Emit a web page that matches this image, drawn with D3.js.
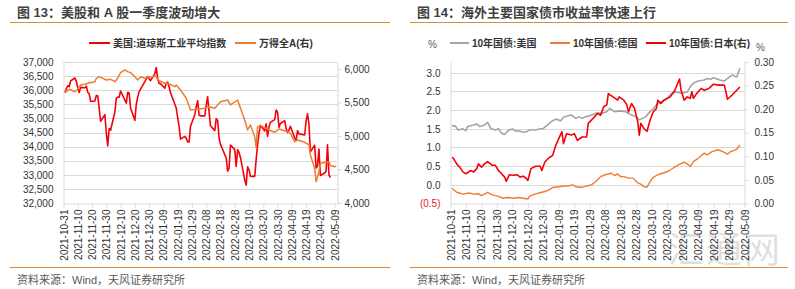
<!DOCTYPE html>
<html>
<head>
<meta charset="utf-8">
<script src="https://cdn.jsdelivr.net/npm/d3@7"></script>
<style>
  body { margin: 0; background: #fff; }
  svg { display: block; font-family: "Liberation Sans", Arial, "Noto Sans CJK SC", sans-serif; }
</style>
</head>
<body>
<svg id="chart" width="795" height="289"></svg>
<script>
// ---- data ----
const X_TICKS = ["2021-10-31","2021-11-10","2021-11-20","2021-11-30","2021-12-10","2021-12-20","2021-12-30",
  "2022-01-09","2022-01-19","2022-01-29","2022-02-08","2022-02-18","2022-02-28","2022-03-10","2022-03-20",
  "2022-03-30","2022-04-09","2022-04-19","2022-04-29","2022-05-09"];

// fig 13
const DOW_TICKS = [32000, 32500, 33000, 33500, 34000, 34500, 35000, 35500, 36000, 36500, 37000];
const WINDA_TICKS = [4000, 4500, 5000, 5500, 6000];

const DOW = [
["2021-11-01",35914],["2021-11-02",36053],["2021-11-03",36158],["2021-11-04",36124],["2021-11-05",36328],
["2021-11-08",36432],["2021-11-09",36320],["2021-11-10",36080],["2021-11-11",35921],["2021-11-12",36100],
["2021-11-15",36087],["2021-11-16",36142],["2021-11-17",35931],["2021-11-18",35871],["2021-11-19",35602],
["2021-11-22",35619],["2021-11-23",35814],["2021-11-24",35804],["2021-11-26",34899],["2021-11-29",35136],["2021-11-30",34484],
["2021-12-01",34022],["2021-12-02",34640],["2021-12-03",34580],["2021-12-06",35227],["2021-12-07",35719],["2021-12-08",35754],["2021-12-09",35755],["2021-12-10",35971],
["2021-12-13",35651],["2021-12-14",35544],["2021-12-15",35927],["2021-12-16",35898],["2021-12-17",35365],
["2021-12-20",34932],["2021-12-21",35493],["2021-12-22",35754],["2021-12-23",35951],["2021-12-27",36302],["2021-12-28",36398],["2021-12-29",36489],["2021-12-30",36398],["2021-12-31",36338],
["2022-01-03",36585],["2022-01-04",36800],["2022-01-05",36407],["2022-01-06",36236],["2022-01-07",36232],
["2022-01-10",36069],["2022-01-11",36252],["2022-01-12",36290],["2022-01-13",36114],["2022-01-14",35912],
["2022-01-18",35368],["2022-01-19",35029],["2022-01-20",34715],["2022-01-21",34265],
["2022-01-24",34365],["2022-01-25",34298],["2022-01-26",34168],["2022-01-27",34161],["2022-01-28",34725],["2022-01-31",35132],
["2022-02-01",35405],["2022-02-02",35629],["2022-02-03",35111],["2022-02-04",35090],
["2022-02-07",35091],["2022-02-08",35463],["2022-02-09",35768],["2022-02-10",35242],["2022-02-11",34738],
["2022-02-14",34566],["2022-02-15",34989],["2022-02-16",34934],["2022-02-17",34312],["2022-02-18",34079],
["2022-02-22",33597],["2022-02-23",33132],["2022-02-24",33224],["2022-02-25",34059],["2022-02-28",33893],
["2022-03-01",33295],["2022-03-02",33891],["2022-03-03",33795],["2022-03-04",33615],
["2022-03-07",32817],["2022-03-08",32633],["2022-03-09",33286],["2022-03-10",33174],["2022-03-11",32944],
["2022-03-14",32945],["2022-03-15",33544],["2022-03-16",34063],["2022-03-17",34481],["2022-03-18",34755],
["2022-03-21",34553],["2022-03-22",34807],["2022-03-23",34359],["2022-03-24",34708],["2022-03-25",34861],
["2022-03-28",34956],["2022-03-29",35294],["2022-03-30",35229],["2022-03-31",34678],
["2022-04-01",34818],["2022-04-04",34922],["2022-04-05",34641],["2022-04-06",34497],["2022-04-07",34584],["2022-04-08",34721],
["2022-04-11",34308],["2022-04-12",34220],["2022-04-13",34565],["2022-04-14",34451],
["2022-04-18",34412],["2022-04-19",34911],["2022-04-20",35161],["2022-04-21",34793],["2022-04-22",33811],
["2022-04-25",34049],["2022-04-26",33240],["2022-04-27",33302],["2022-04-28",33916],["2022-04-29",32977],
["2022-05-02",33062],["2022-05-03",33129],["2022-05-04",34061],["2022-05-05",32998],["2022-05-06",32899]
];

const WINDA = [
["2021-11-01",5680],["2021-11-02",5661],["2021-11-04",5697],["2021-11-08",5661],["2021-11-10",5697],
["2021-11-12",5761],["2021-11-15",5772],["2021-11-17",5787],["2021-11-22",5810],["2021-11-23",5861],
["2021-11-25",5885],["2021-11-29",5846],["2021-11-30",5836],["2021-12-03",5846],["2021-12-06",5810],
["2021-12-08",5861],["2021-12-10",5945],["2021-12-13",5985],["2021-12-15",5960],["2021-12-17",5945],
["2021-12-20",5885],["2021-12-22",5836],["2021-12-24",5885],["2021-12-27",5861],["2021-12-29",5885],
["2021-12-31",5876],["2022-01-04",5896],["2022-01-05",5836],["2022-01-10",5787],["2022-01-12",5787],
["2022-01-17",5736],["2022-01-18",5761],["2022-01-21",5687],["2022-01-25",5563],["2022-01-28",5388],
["2022-02-07",5413],["2022-02-10",5437],["2022-02-14",5413],["2022-02-18",5512],["2022-02-23",5537],
["2022-02-25",5463],["2022-03-02",5537],["2022-03-04",5413],["2022-03-07",5239],["2022-03-09",5090],
["2022-03-11",5164],["2022-03-14",4990],["2022-03-15",4830],["2022-03-16",5139],["2022-03-18",5154],
["2022-03-22",5115],["2022-03-24",5090],["2022-03-28",5055],["2022-03-31",5104],["2022-04-06",5064],
["2022-04-08",5040],["2022-04-11",4915],["2022-04-13",4940],["2022-04-18",4906],["2022-04-21",4866],
["2022-04-22",4716],["2022-04-25",4518],["2022-04-26",4318],["2022-04-28",4467],["2022-04-29",4593],
["2022-05-05",4616],["2022-05-06",4560],["2022-05-09",4540],["2022-05-10",4552]
];

// fig 14
const YIELD_TICKS = [-0.5, 0, 0.5, 1.0, 1.5, 2.0, 2.5, 3.0];
const JP_TICKS = [0, 0.05, 0.10, 0.15, 0.20, 0.25, 0.30];

const US10Y = [
["2021-11-01",1.58],["2021-11-03",1.58],["2021-11-05",1.47],["2021-11-08",1.50],["2021-11-10",1.45],
["2021-11-11",1.56],["2021-11-15",1.60],["2021-11-17",1.63],["2021-11-19",1.56],["2021-11-22",1.60],
["2021-11-24",1.67],["2021-11-26",1.51],["2021-11-29",1.47],["2021-12-01",1.50],["2021-12-03",1.38],
["2021-12-05",1.35],["2021-12-07",1.44],["2021-12-10",1.50],["2021-12-12",1.44],["2021-12-14",1.45],
["2021-12-17",1.41],["2021-12-19",1.42],["2021-12-21",1.47],["2021-12-25",1.47],["2021-12-28",1.50],
["2021-12-30",1.51],["2022-01-01",1.58],["2022-01-04",1.69],["2022-01-06",1.74],["2022-01-08",1.76],
["2022-01-10",1.71],["2022-01-12",1.81],["2022-01-15",1.85],["2022-01-17",1.87],["2022-01-20",1.78],
["2022-01-22",1.82],["2022-01-24",1.78],["2022-01-26",1.82],["2022-01-29",1.85],["2022-02-02",1.92],
["2022-02-06",1.92],["2022-02-09",1.96],["2022-02-11",2.05],["2022-02-14",1.96],["2022-02-18",1.98],
["2022-02-21",1.96],["2022-02-24",1.89],["2022-02-28",1.82],["2022-03-02",1.74],["2022-03-04",1.78],
["2022-03-06",1.82],["2022-03-09",1.96],["2022-03-11",2.03],["2022-03-13",2.14],["2022-03-16",2.22],
["2022-03-20",2.32],["2022-03-23",2.45],["2022-03-26",2.49],["2022-03-29",2.45],["2022-04-02",2.49],
["2022-04-04",2.63],["2022-04-06",2.72],["2022-04-09",2.78],["2022-04-13",2.81],["2022-04-15",2.85],
["2022-04-17",2.83],["2022-04-19",2.87],["2022-04-23",2.81],["2022-04-26",2.78],["2022-04-28",2.85],
["2022-05-01",2.94],["2022-05-04",2.89],["2022-05-06",3.12]
];

const DE10Y = [
["2021-11-01",-0.09],["2021-11-02",-0.13],["2021-11-04",-0.20],["2021-11-06",-0.22],["2021-11-08",-0.25],
["2021-11-12",-0.22],["2021-11-15",-0.25],["2021-11-18",-0.24],["2021-11-20",-0.29],["2021-11-22",-0.25],
["2021-11-24",-0.20],["2021-11-27",-0.27],["2021-11-29",-0.29],["2021-12-01",-0.31],["2021-12-04",-0.36],
["2021-12-07",-0.34],["2021-12-11",-0.36],["2021-12-14",-0.34],["2021-12-17",-0.36],["2021-12-20",-0.38],
["2021-12-21",-0.31],["2021-12-23",-0.27],["2021-12-27",-0.22],["2021-12-31",-0.18],["2022-01-03",-0.13],
["2022-01-05",-0.07],["2022-01-09",-0.05],["2022-01-12",-0.03],["2022-01-15",-0.03],["2022-01-18",0.00],
["2022-01-20",-0.05],["2022-01-24",-0.07],["2022-01-27",-0.03],["2022-01-30",0.00],["2022-02-02",0.09],
["2022-02-05",0.22],["2022-02-08",0.27],["2022-02-12",0.31],["2022-02-14",0.25],["2022-02-16",0.29],
["2022-02-18",0.22],["2022-02-20",0.22],["2022-02-23",0.18],["2022-02-26",0.18],["2022-03-01",0.05],
["2022-03-03",0.02],["2022-03-05",-0.05],["2022-03-07",-0.06],["2022-03-09",0.09],["2022-03-11",0.20],
["2022-03-14",0.27],["2022-03-17",0.31],["2022-03-21",0.37],["2022-03-24",0.45],["2022-03-27",0.53],
["2022-03-31",0.61],["2022-04-03",0.53],["2022-04-04",0.49],["2022-04-06",0.62],["2022-04-09",0.71],
["2022-04-13",0.85],["2022-04-15",0.80],["2022-04-18",0.89],["2022-04-22",0.94],["2022-04-25",0.89],
["2022-04-28",0.82],["2022-04-30",0.89],["2022-05-04",0.95],["2022-05-06",1.07]
];

const JP10Y = [
["2021-11-01",0.098],["2021-11-02",0.095],["2021-11-04",0.084],["2021-11-06",0.077],["2021-11-08",0.067],
["2021-11-10",0.063],["2021-11-13",0.070],["2021-11-15",0.067],["2021-11-17",0.074],["2021-11-18",0.084],
["2021-11-20",0.077],["2021-11-22",0.084],["2021-11-24",0.089],["2021-11-27",0.081],["2021-11-29",0.081],
["2021-12-01",0.070],["2021-12-03",0.063],["2021-12-05",0.056],["2021-12-06",0.047],["2021-12-08",0.061],
["2021-12-11",0.060],["2021-12-13",0.061],["2021-12-15",0.056],["2021-12-17",0.058],["2021-12-19",0.053],
["2021-12-20",0.049],["2021-12-22",0.074],["2021-12-25",0.079],["2021-12-28",0.079],["2021-12-29",0.070],
["2021-12-31",0.088],["2022-01-02",0.095],["2022-01-05",0.102],["2022-01-07",0.123],["2022-01-09",0.138],
["2022-01-11",0.152],["2022-01-12",0.127],["2022-01-14",0.148],["2022-01-17",0.145],["2022-01-19",0.148],
["2022-01-21",0.134],["2022-01-24",0.141],["2022-01-27",0.141],["2022-01-28",0.170],["2022-01-31",0.180],
["2022-02-03",0.191],["2022-02-05",0.187],["2022-02-07",0.205],["2022-02-09",0.209],["2022-02-10",0.233],
["2022-02-13",0.226],["2022-02-16",0.219],["2022-02-17",0.226],["2022-02-20",0.219],["2022-02-22",0.209],
["2022-02-23",0.194],["2022-02-25",0.212],["2022-02-27",0.201],["2022-03-01",0.173],["2022-03-02",0.145],
["2022-03-03",0.170],["2022-03-05",0.159],["2022-03-07",0.153],["2022-03-09",0.177],["2022-03-11",0.194],
["2022-03-13",0.201],["2022-03-14",0.219],["2022-03-16",0.212],["2022-03-18",0.219],["2022-03-22",0.226],
["2022-03-25",0.240],["2022-03-28",0.264],["2022-03-29",0.240],["2022-03-31",0.219],["2022-04-02",0.226],
["2022-04-04",0.223],["2022-04-05",0.237],["2022-04-06",0.223],["2022-04-08",0.233],["2022-04-11",0.244],
["2022-04-13",0.240],["2022-04-16",0.244],["2022-04-19",0.253],["2022-04-22",0.251],["2022-04-26",0.251],
["2022-04-28",0.221],["2022-05-01",0.230],["2022-05-06",0.247]
];

// ---- drawing ----
const parse = d3.timeParse("%Y-%m-%d");
const fmtDate = d3.timeFormat("%Y-%m-%d");
const GRID = "#d9d9d9";
const TEXT = "#333";
const RED = "#f5000a", ORANGE = "#ed7d31", GRAY = "#a5a5a5", RULE = "#e08a3c";

const svg = d3.select("#chart");
svg.append("rect").attr("width", 795).attr("height", 289).attr("fill", "#fff");

function frame(x0, x1, title) {
  svg.append("text").attr("x", x0 + 7).attr("y", 17)
    .attr("font-size", 13).attr("font-weight", "bold").attr("fill", "#404040").text(title);
  svg.append("line").attr("x1", x0).attr("x2", x1).attr("y1", 22.5).attr("y2", 22.5)
    .attr("stroke", RULE).attr("stroke-width", 1);
  svg.append("line").attr("x1", x0).attr("x2", x1).attr("y1", 267.5).attr("y2", 267.5)
    .attr("stroke", RULE).attr("stroke-width", 1);
  svg.append("text").attr("x", x0 + 7).attr("y", 284)
    .attr("font-size", 11).attr("fill", "#595959").text("资料来源：Wind，天风证券研究所");
}

function legendItem(x, y, color, label, w) {
  svg.append("line").attr("x1", x).attr("x2", x + w).attr("y1", y).attr("y2", y)
    .attr("stroke", color).attr("stroke-width", 2);
  svg.append("text").attr("x", x + w + 3).attr("y", y).attr("dy", "0.35em")
    .attr("font-size", 10).attr("font-weight", "bold").attr("fill", TEXT).text(label);
}

function xAxis(x, yBot) {
  const g = svg.append("g").attr("transform", `translate(0,${yBot})`)
    .call(d3.axisBottom(x).tickValues(X_TICKS.map(parse)).tickFormat(fmtDate).tickSize(4).tickSizeOuter(0));
  g.select(".domain").attr("stroke", GRID);
  g.selectAll(".tick line").attr("stroke", GRID);
  g.selectAll(".tick text")
    .attr("transform", "rotate(-90)").attr("x", -6).attr("y", 0).attr("dy", "0.35em")
    .style("text-anchor", "end").attr("font-size", 10).attr("fill", TEXT)
    .attr("font-family", "'Liberation Sans', Arial, sans-serif");
}

function yAxis(axis, xPos, colorFn) {
  const g = svg.append("g").attr("transform", `translate(${xPos},0)`).call(axis);
  g.select(".domain").attr("stroke", GRID);
  g.selectAll(".tick line").attr("stroke", GRID);
  g.selectAll(".tick text").attr("font-size", 10).attr("fill", colorFn || TEXT)
    .attr("font-family", "'Liberation Sans', Arial, sans-serif");
}

function grid(y, ticks, x0, x1) {
  svg.append("g").selectAll("line").data(ticks).enter().append("line")
    .attr("x1", x0).attr("x2", x1).attr("y1", d => Math.round(y(d)) + 0.5).attr("y2", d => Math.round(y(d)) + 0.5)
    .attr("stroke", GRID).attr("stroke-width", 1);
}

function series(data, x, y, color, width) {
  const line = d3.line().x(d => x(parse(d[0]))).y(d => y(d[1]));
  svg.append("path").datum(data).attr("d", line)
    .attr("fill", "none").attr("stroke", color).attr("stroke-width", width)
    .attr("stroke-linejoin", "round");
}

// ===== Figure 13 =====
{
  frame(10, 390, "图 13：美股和 A 股一季度波动增大");
  const x = d3.scaleTime().domain([parse("2021-10-31"), parse("2022-05-11")]).range([63.5, 337.5]);
  const yL = d3.scaleLinear().domain([32000, 37000]).range([203, 62]);
  const yR = d3.scaleLinear().domain([4000, 6104]).range([203, 62]);

  grid(yL, DOW_TICKS.slice(1), 63.5, 337.5);
  yAxis(d3.axisLeft(yL).tickValues(DOW_TICKS).tickFormat(d3.format(",")).tickSize(0).tickPadding(10), 63.5);
  yAxis(d3.axisRight(yR).tickValues(WINDA_TICKS).tickFormat(d3.format(",")).tickSize(4).tickSizeOuter(0).tickPadding(3), 337.5);
  xAxis(x, 203.5);

  series(DOW, x, yL, RED, 1.6);
  series(WINDA, x, yR, ORANGE, 1.5);

  legendItem(89, 43, RED, "美国:道琼斯工业平均指数", 21);
  legendItem(235, 43, ORANGE, "万得全A(右)", 21);
}

// ===== Figure 14 =====
{
  frame(410, 788, "图 14：海外主要国家债市收益率快速上行");
  const x = d3.scaleTime().domain([parse("2021-10-31"), parse("2022-05-09")]).range([450.5, 744.5]);
  const yL = d3.scaleLinear().domain([-0.5, 3.29]).range([203.5, 62]);
  const yR = d3.scaleLinear().domain([0, 0.30]).range([203.5, 62]);

  grid(yL, YIELD_TICKS.slice(1), 450.5, 744.5);
  const fmtL = v => v < 0 ? `(${d3.format(".1f")(-v)})` : d3.format(".1f")(v);
  yAxis(d3.axisLeft(yL).tickValues(YIELD_TICKS).tickFormat(fmtL).tickSize(0).tickPadding(10), 450.5,
    d => d < 0 ? "#e3262b" : TEXT);
  yAxis(d3.axisRight(yR).tickValues(JP_TICKS).tickFormat(d3.format(".2f")).tickSize(4).tickSizeOuter(0).tickPadding(6), 744.5);
  xAxis(x, 203.5);

  series(US10Y, x, yL, GRAY, 1.6);
  series(DE10Y, x, yL, ORANGE, 1.4);
  series(JP10Y, x, yR, RED, 1.6);

  svg.append("text").attr("x", 428).attr("y", 44).attr("dy", "0.35em")
    .attr("font-size", 10).attr("fill", "#595959").text("%");
  svg.append("text").attr("x", 756).attr("y", 47).attr("dy", "0.35em")
    .attr("font-size", 10).attr("fill", "#595959").text("%");
  legendItem(450, 43, GRAY, "10年国债:美国", 19);
  legendItem(550, 43, ORANGE, "10年国债:德国", 20);
  legendItem(646, 43, RED, "10年国债:日本(右)", 20);

  // faint watermark in the corner
  svg.append("text").attr("x", 668).attr("y", 263).attr("font-size", 36)
    .attr("fill", "#000").attr("opacity", 0.12).attr("letter-spacing", 2).text("汇通网");
}
</script>
</body>
</html>
